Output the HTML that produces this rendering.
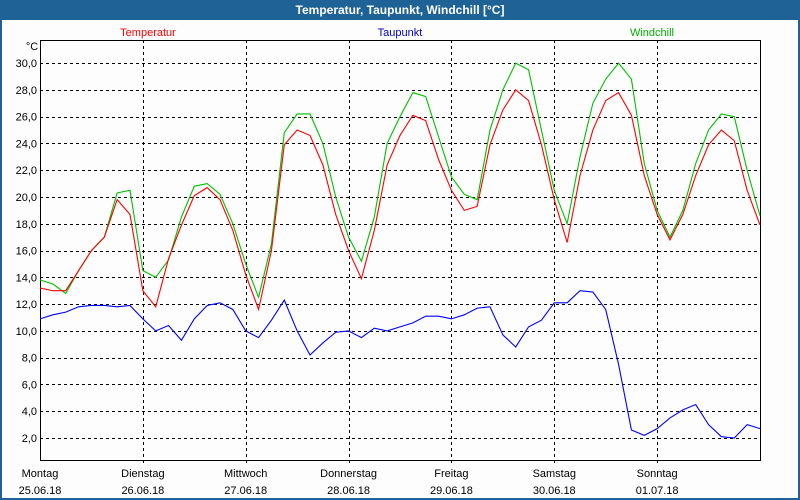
<!DOCTYPE html>
<html><head><meta charset="utf-8"><style>
body{margin:0;width:800px;height:500px;overflow:hidden;background:#1f6296;font-family:"Liberation Sans",sans-serif}
#win{position:absolute;left:2px;top:20px;width:796px;height:478px;background:#fdfdfd}
#title{position:absolute;left:0;top:0;width:800px;height:20px;line-height:20px;text-align:center;color:#fff;font-weight:bold;font-size:12px}
</style></head><body>
<div id="title">Temperatur, Taupunkt, Windchill [°C]</div>
<div id="win"></div>
<svg id="chart" width="800" height="500" style="position:absolute;left:0;top:0"></svg>
<script>
const dayNames=["Montag","Dienstag","Mittwoch","Donnerstag","Freitag","Samstag","Sonntag"];
const dayDates=["25.06.18","26.06.18","27.06.18","28.06.18","29.06.18","30.06.18","01.07.18"];
const yTicks=[2,4,6,8,10,12,14,16,18,20,22,24,26,28,30];
const temperatur=[13.2,13.0,13.0,14.5,16.0,17.0,19.8,18.7,13.0,11.8,15.4,17.9,20.1,20.7,19.8,17.5,14.2,11.6,16.0,23.9,25.0,24.6,22.4,18.7,16.0,13.9,17.5,22.4,24.6,26.1,25.7,22.8,20.5,19.0,19.3,23.9,26.5,28.0,27.2,23.9,19.8,16.6,21.6,25.0,27.2,27.8,26.1,21.6,18.7,16.8,18.7,21.6,23.9,25.0,24.2,20.5,17.9];
const windchill=[13.8,13.5,12.8,14.5,16.0,17.0,20.3,20.5,14.5,14.0,15.3,18.5,20.8,21.0,20.2,18.0,15.0,12.5,16.5,24.8,26.2,26.2,24.0,20.0,17.0,15.2,18.5,24.0,26.0,27.8,27.5,24.5,21.5,20.2,19.8,25.0,28.0,30.0,29.5,25.0,20.5,18.0,23.0,27.0,28.8,30.0,28.8,22.5,19.0,17.0,19.0,22.5,25.0,26.2,26.0,22.0,18.6];
const taupunkt=[10.9,11.2,11.4,11.8,11.9,11.9,11.8,11.9,10.9,10.0,10.4,9.3,10.9,11.9,12.1,11.6,10.0,9.5,10.8,12.3,10.0,8.2,9.1,9.9,10.0,9.5,10.2,10.0,10.3,10.6,11.1,11.1,10.9,11.2,11.7,11.8,9.7,8.8,10.3,10.8,12.1,12.1,13.0,12.9,11.6,7.5,2.6,2.2,2.7,3.5,4.1,4.5,3.0,2.1,2.0,3.0,2.7];
const L=40,R=760,T=40,B=460;
const X=i=>L+i*(R-L)/(temperatur.length-1);
const Y=v=>464.8-v*13.39;
const svg=document.getElementById('chart');const NS="http://www.w3.org/2000/svg";
function mk(t,a){const e=document.createElementNS(NS,t);for(const k in a)e.setAttribute(k,a[k]);svg.appendChild(e);return e;}
yTicks.forEach(v=>{
 const yy=Math.round(Y(v))+0.5;
 const g=mk('line',{x1:L,x2:R,y1:yy,y2:yy,stroke:'#000','stroke-dasharray':'3,3','shape-rendering':'crispEdges'});
 
 
 const t=mk('text',{x:L-3,y:Y(v)+4,'text-anchor':'end','font-size':11,fill:'#000'});t.textContent=v.toFixed(1).replace('.',',');
 
 
});
dayNames.forEach((n,d)=>{
 const x=L+d*(R-L)/7;
 const xx=Math.round(x)+0.5;
 if(d>0){const g=mk('line',{x1:xx,x2:xx,y1:T,y2:B+4,stroke:'#000','stroke-dasharray':'3,3','shape-rendering':'crispEdges'});
 
 }
 const t=mk('text',{x:x,y:477,'text-anchor':'middle','font-size':11});t.textContent=n;
 
 
 const t2=mk('text',{x:x,y:494,'text-anchor':'middle','font-size':11});t2.textContent=dayDates[d];
 
 
});
const fr=mk('rect',{x:L+0.5,y:T+0.5,width:R-L,height:B-T,fill:'none',stroke:'#000','shape-rendering':'crispEdges'});


const u=mk('text',{x:32,y:50,'text-anchor':'middle','font-size':11});u.textContent='°C';


function series(arr,col,name){const p=mk('polyline',{points:arr.map((v,i)=>X(i)+','+Y(v)).join(' '),fill:'none',stroke:col,'stroke-width':1.1});
 
 }
series(taupunkt,'#0000ff','taupunkt-line');
series(windchill,'#00c000','windchill-line');
series(temperatur,'#ff0000','temperatur-line');
[['Temperatur','#ff0000',148],['Taupunkt','#0000c0',400],['Windchill','#00b000',652]].forEach(l=>{
 const t=mk('text',{x:l[2],y:36,'text-anchor':'middle','font-size':11,fill:l[1]});t.textContent=l[0];
 
 
});
</script></body></html>
